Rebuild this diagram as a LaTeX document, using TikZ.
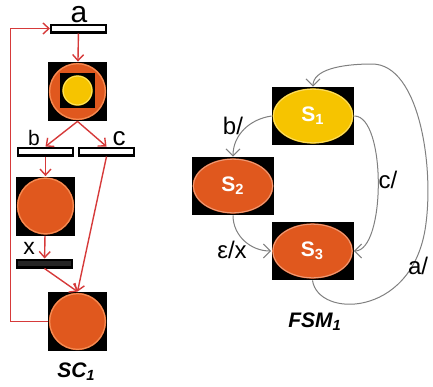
\documentclass[tikz,border=0pt]{standalone}
\usepackage{fontspec}
\setmainfont{Liberation Sans}
\usepackage{tikz}
\usetikzlibrary{positioning}
\usetikzlibrary{arrows.meta}

\definecolor{placeorange}{RGB}{224,88,30}
\definecolor{placerim}{RGB}{244,140,84}
\definecolor{tokenyellow}{RGB}{246,196,0}
\definecolor{tokenrim}{RGB}{252,226,96}
\definecolor{arcred}{RGB}{214,58,58}
\definecolor{edgegray}{RGB}{128,128,128}

\tikzset{
  placebox/.style={fill=black, minimum size=29.5pt, inner sep=0,
    path picture={
      \fill[placeorange] (path picture bounding box.center) circle (14.3pt);
      \draw[placerim, line width=.6pt] (path picture bounding box.center) circle (13.9pt);
    }},
  tokenbox/.style={fill=black, minimum size=17.5pt, inner sep=0,
    path picture={
      \fill[tokenyellow] (path picture bounding box.center) circle (7.6pt);
      \draw[tokenrim, line width=.5pt] (path picture bounding box.center) circle (7.2pt);
    }},
  trans/.style={draw=black, fill=white, line width=1.2pt,
    minimum width=27.3pt, minimum height=3.8pt, inner sep=0},
  statebox/.style={fill=black, minimum width=41pt, minimum height=29pt, inner sep=0,
    text=white, font=\fontsize{10.5}{12}\selectfont\bfseries,
    path picture={
      \fill[#1] (path picture bounding box.center) ellipse [x radius=20.2pt, y radius=13.8pt];
      \draw[#1!60!white, line width=.5pt] (path picture bounding box.center) ellipse [x radius=19.8pt, y radius=13.4pt];
    }},
  statebox/.default=placeorange,
  lbl/.style={inner sep=0, font=\fontsize{#1}{#1}\selectfont},
  parc/.style={arcred, line width=.7pt, -{Straight Barb[length=3pt, width=5.5pt]}},
  fsmedge/.style={edgegray, line width=.5pt, -{Straight Barb[length=3.5pt, width=7pt]}},
}

\begin{document}
\begin{tikzpicture}[x=.5pt, y=-.5pt]
\useasboundingbox (0,0) rectangle (433,386);

% the net SC_1
\node[trans] (ta) at (78.5,28.5) {};
\node[placebox] (p1) at (77.5,91.5) {};
\node[tokenbox] (tok) at (77.5,90.5) {};
\node[trans] (tb) at (45.5,151.5) {};
\node[trans] (tc) at (106.5,151.5) {};
\node[placebox] (p2) at (45.5,206) {};
\node[trans, fill=black!85] (tx) at (44.5,263.5) {};
\node[placebox] (p3) at (77.5,321.5) {};

\node[lbl=15, anchor=south] (la) at (79,23) {a};
\node[lbl=10.5, anchor=south] (lb) at (34,146) {b};
\node[lbl=13, anchor=south] (lc) at (119,146) {c};
\node[lbl=11.5, anchor=south] (lx) at (29,255) {x};

\draw[parc] (ta) -- (p1);
\draw[parc] (p1.south) -- (tb.north);
\draw[parc] (p1.south) -- (tc.north);
\draw[parc] (tb) -- (p2);
\draw[parc] (p2) -- (tx);
\draw[parc] (tx.south) -- (p3.north);
\draw[parc] (tc.south) -- (p3.north);
\draw[parc] (p3.west) -- ++(-37,0) |- (ta.west);

\node[lbl=10.5] (sctitle) at (76.5,372) {\textbf{\textit{SC\textsubscript{1}}}};

% the machine FSM_1
\node[statebox=tokenyellow] (s1) at (313,116) {S\textsubscript{1}};
\node[statebox] (s2) at (233,186) {S\textsubscript{2}};
\node[statebox] (s3) at (312.5,251) {S\textsubscript{3}};

\draw[fsmedge] (s1.west) to[out=188, in=90] (s2.north);
\draw[fsmedge] (s2.south) to[out=-90, in=180] (s3.west);
\draw[fsmedge]
  (s1.east)
    .. controls +(32,0) and +(32,0) ..
  (s3.east);
\draw[fsmedge]
  (s3.south)
    .. controls (318,318) and (410,318) ..
  (425,230)
    .. controls (435,170) and (420,64) ..
  (372,64)
    .. controls (340,64) and (313,70) ..
  (s1.north);

\node[lbl=12] (lbs) at (233,126) {b/};
\node[lbl=12] (les) at (232,250) {ε/x};
\node[lbl=12] (lcs) at (388,180) {c/};
\node[lbl=12] (las) at (418,266) {a/};

\node[lbl=10.5] (fsmtitle) at (315,322) {\textbf{\textit{FSM\textsubscript{1}}}};

\end{tikzpicture}
\end{document}
